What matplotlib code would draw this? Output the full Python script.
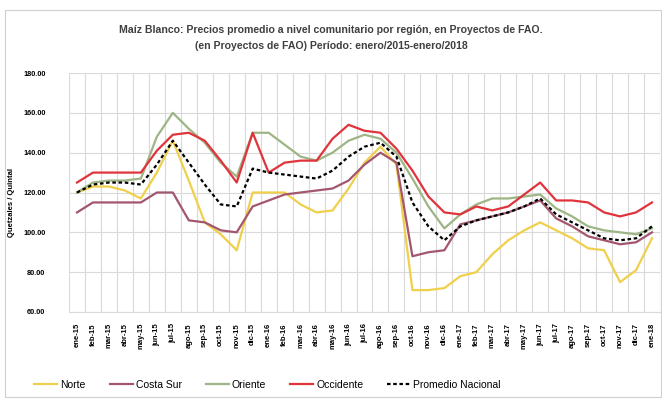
import matplotlib
matplotlib.use("Agg")
import matplotlib.pyplot as plt
from matplotlib.patches import Rectangle

# meses ene-15 .. ene-18
meses = ["ene", "feb", "mar", "abr", "may", "jun", "jul", "ago", "sep", "oct", "nov", "dic"]
etiquetas = [f"{m}-{a}" for a in ("15", "16", "17") for m in meses] + ["ene-18"]

norte = [120, 123, 123, 121, 117, 130, 146, 126, 105, 99, 91, 120, 120, 120, 114, 110, 111, 122,
         135, 143, 134, 71, 71, 72, 78, 80, 89, 96, 101, 105, 101, 97, 92, 91, 75, 81, 97]
costa_sur = [110, 115, 115, 115, 115, 120, 120, 106, 105, 101, 100, 113, 116, 119, 120, 121, 122, 126,
             134, 140, 135, 88, 90, 91, 104, 106, 108, 110, 113, 116, 107, 103, 98, 96, 94, 95, 100]
oriente = [120, 125, 126, 126, 127, 148, 160, 152, 145, 135, 128, 150, 150, 144, 138, 136, 140, 146,
           149, 147, 140, 127, 113, 102, 109, 114, 117, 117, 118, 119, 112, 108, 103, 101, 100, 99, 102]
occidente = [125, 130, 130, 130, 130, 141, 149, 150, 146, 136, 125, 150, 130, 135, 136, 136, 147, 154,
             151, 150, 142, 131, 118, 110, 109, 113, 111, 113, 119, 125, 116, 116, 115, 110, 108, 110, 115]
promedio = [120, 124, 125, 125, 124, 134, 146, 135, 124, 114, 113, 132, 130, 129, 128, 127, 131, 138,
            143, 145, 138, 115, 103, 96, 103, 106, 108, 110, 113, 117, 109, 105, 101, 97, 96, 97, 103]

plt.rcParams['font.family'] = ['Liberation Sans', 'DejaVu Sans']

fig = plt.figure(figsize=(6.62, 4.0), dpi=100)
fig.patches.append(Rectangle((5 / 662, 3 / 400), 656 / 662, 387 / 400, transform=fig.transFigure,
                             fill=False, edgecolor="#D0D0D0", linewidth=0.8))
ax = fig.add_axes([69 / 662, 1 - 312 / 400, 591 / 662, 239 / 400])

x = list(range(len(etiquetas)))
ax.plot(x, norte, color="#F0D04A", lw=1.6, label="Norte")
ax.plot(x, costa_sur, color="#A3566E", lw=1.6, label="Costa Sur")
ax.plot(x, oriente, color="#9EB585", lw=1.6, label="Oriente")
ax.plot(x, occidente, color="#E0343C", lw=1.6, label="Occidente")
ax.plot(x, promedio, color="black", lw=1.6, linestyle=(0, (1.6, 1.2)), label="Promedio Nacional")

ax.set_xlim(-0.5, len(etiquetas) - 0.5)
ax.set_ylim(60, 180)
ax.set_yticks(range(60, 181, 20))
ax.set_yticklabels([f"{v:.2f}" for v in range(60, 181, 20)], fontsize=5.3, fontweight="bold")
ax.set_xticks(x)
ax.set_xticklabels(etiquetas, rotation=90, fontsize=5.5, fontweight="bold")
ax.set_xticks([i - 0.5 for i in range(len(etiquetas) + 1)], minor=True)
ax.tick_params(axis="both", which="both", length=0)
ax.tick_params(axis="x", pad=8)
ax.tick_params(axis="y", pad=17)
ax.grid(axis="y", which="major", color="#D9D9D9", lw=0.8)
ax.grid(axis="x", which="minor", color="#D9D9D9", lw=0.8)
for s in ax.spines.values():
    s.set_visible(False)
ax.spines["bottom"].set_visible(True)
ax.spines["bottom"].set_color("#D9D9D9")
ax.set_axisbelow(True)

ax.set_ylabel("Quetzales / Quintal", fontsize=5.5, fontweight="bold")
ax.yaxis.set_label_coords(-54 / 591, 0.46)

fig.text(0.5, 1 - 30 / 400, "Maíz Blanco: Precios promedio a nivel comunitario por región, en Proyectos de FAO.",
         ha="center", va="center", fontsize=7.6, fontweight="bold", color="#404040")
fig.text(0.5, 1 - 46 / 400, "(en Proyectos de FAO) Período: enero/2015-enero/2018",
         ha="center", va="center", fontsize=7.6, fontweight="bold", color="#404040")

fig.legend(loc="center left", bbox_to_anchor=(25 / 662, 1 - 385 / 400), ncol=5, frameon=False,
           fontsize=7.5, handlelength=2.2, handletextpad=0.3, columnspacing=2.3)

fig.savefig("out.png", dpi=100)
